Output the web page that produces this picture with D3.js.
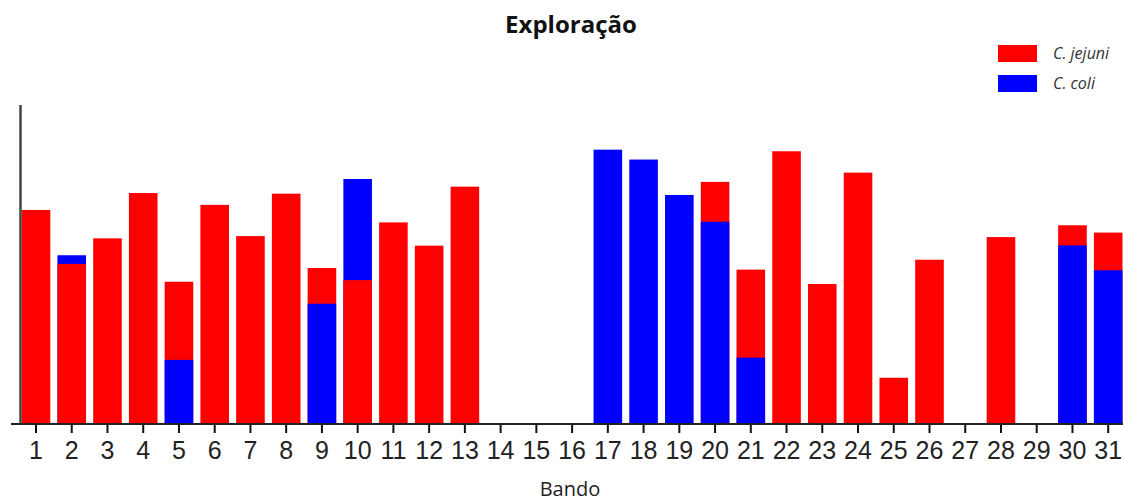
<!DOCTYPE html>
<html>
<head>
<meta charset="utf-8">
<script src="https://cdn.jsdelivr.net/npm/d3@7"></script>
<style>
  html, body { margin: 0; padding: 0; background: #fff; }
  svg { display: block; }
</style>
</head>
<body>
<svg id="chart" width="1123" height="501"></svg>
<script>
const categories = ["1","2","3","4","5","6","7","8","9","10","11","12","13","14","15","16","17","18","19","20","21","22","23","24","25","26","27","28","29","30","31"];
const jejuni = [67.1, 50.2, 58.2, 72.4, 44.6, 68.7, 58.9, 72.2, 48.9, 45.1, 63.2, 55.9, 74.4, 0, 0, 0, 0, 0, 0, 75.9, 48.4, 85.5, 43.9, 78.8, 14.5, 51.5, 0, 58.6, 0, 62.3, 60.0];
const coli   = [0, 52.9, 0, 0, 20.1, 0, 0, 0, 37.7, 76.8, 0, 0, 0, 0, 0, 0, 86.0, 82.9, 71.8, 63.4, 20.8, 0, 0, 0, 0, 0, 0, 0, 0, 56.0, 48.2];
const seriesNames = ["C. jejuni", "C. coli"];
const seriesColors = ["#ff0000", "#0000ff"];
const title = "Exploração";
const xTitle = "Bando";

const svg = d3.select("#chart");
const baseY = 424, topY = 105;

const x = d3.scaleBand().domain(categories).range([18.13, 1126.07]).paddingInner(0.2).paddingOuter(0.1);
const y = d3.scaleLinear().domain([0, 100]).range([baseY, topY]);

// Build per-category marks: taller drawn first, shorter in front
const marks = [];
categories.forEach((c, i) => {
  const vals = [
    {cat: c, v: jejuni[i], s: 0},
    {cat: c, v: coli[i], s: 1}
  ].filter(d => d.v > 0).sort((a, b) => b.v - a.v);
  vals.forEach(d => marks.push(d));
});

svg.append("g").selectAll("rect").data(marks).join("rect")
  .attr("x", d => x(d.cat))
  .attr("width", x.bandwidth())
  .attr("y", d => y(d.v))
  .attr("height", d => y(0) - y(d.v))
  .attr("fill", d => seriesColors[d.s]);

// Y axis line (no ticks)
svg.append("line")
  .attr("x1", 20.5).attr("x2", 20.5)
  .attr("y1", topY).attr("y2", baseY)
  .attr("stroke", "#444").attr("stroke-width", 2.5);

// X axis
const xAxis = d3.axisBottom(x).tickSize(9).tickSizeOuter(0);
const gx = svg.append("g").attr("transform", `translate(0,${baseY})`).call(xAxis);
gx.select(".domain").remove();
gx.selectAll(".tick line").attr("stroke", "#111").attr("stroke-width", 2);
gx.selectAll(".tick text")
  .attr("y", 35).attr("dy", 0)
  .attr("fill", "#222")
  .style("font-family", "'Liberation Sans', Arial, sans-serif")
  .style("font-size", "25px");
svg.append("line")
  .attr("x1", 11).attr("x2", 1123)
  .attr("y1", baseY).attr("y2", baseY)
  .attr("stroke", "#222").attr("stroke-width", 2);

// Titles
svg.append("text")
  .attr("x", 571).attr("y", 33)
  .attr("text-anchor", "middle")
  .style("font-family", "'Open Sans', sans-serif")
  .style("font-weight", "bold")
  .style("font-size", "24px")
  .attr("fill", "#111")
  .text(title);

svg.append("text")
  .attr("x", 570).attr("y", 496)
  .attr("text-anchor", "middle")
  .style("font-family", "'Open Sans', sans-serif")
  .style("font-size", "20px")
  .attr("fill", "#222")
  .text(xTitle);

// Legend
const lg = svg.append("g");
seriesNames.forEach((n, i) => {
  const yy = 45 + i * 30;
  lg.append("rect").attr("x", 998).attr("y", yy).attr("width", 39).attr("height", 17).attr("fill", seriesColors[i]);
  lg.append("text").attr("x", 1053).attr("y", yy + 14)
    .style("font-family", "'Open Sans', sans-serif")
    .style("font-style", "italic")
    .style("font-size", "16px")
    .attr("fill", "#333")
    .text(n);
});
</script>
</body>
</html>
